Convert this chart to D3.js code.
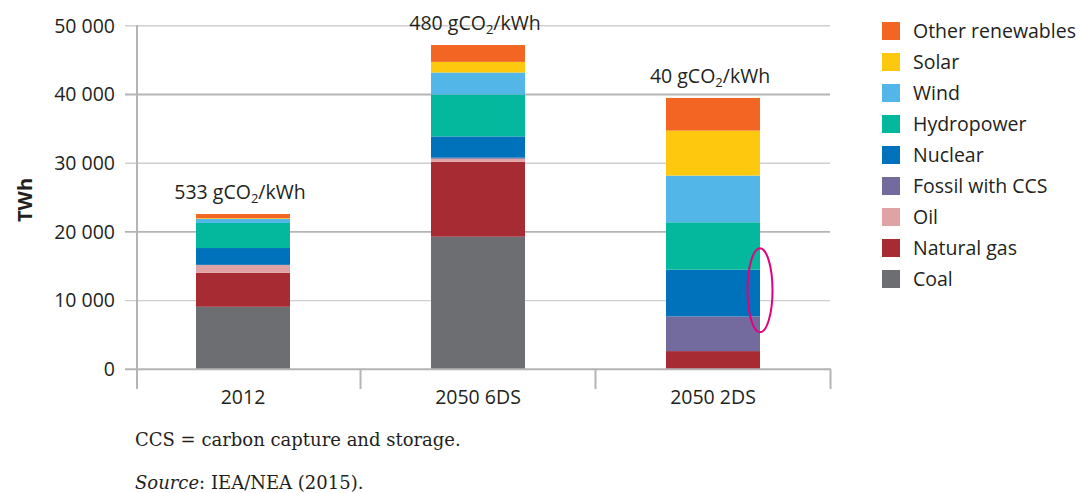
<!DOCTYPE html>
<html><head><meta charset="utf-8">
<script src="https://cdn.jsdelivr.net/npm/d3@7"></script>
<style>
html,body{margin:0;padding:0;background:#fff;}
svg{display:block;}
</style></head>
<body>
<svg id="chart" width="1090" height="493"></svg>
<script>
const categories = ["2012", "2050 6DS", "2050 2DS"];
const seriesNames = ["Coal", "Natural gas", "Oil", "Fossil with CCS", "Nuclear", "Hydropower", "Wind", "Solar", "Other renewables"];
const coal      = [9100, 19300, 0];
const gas       = [4950, 10900, 2650];
const oil       = [1150, 450, 0];
const ccs       = [0, 150, 5050];
const nuclear   = [2450, 3100, 6800];
const hydro     = [3650, 6100, 6900];
const wind      = [600, 3200, 6800];
const solar     = [100, 1550, 6550];
const other     = [600, 2450, 4750];
const intensity = ["533", "480", "40"];
const yTicks = [0, 10000, 20000, 30000, 40000, 50000];
const colors = ["#6d6e71", "#a62b33", "#e0a3a5", "#736b9e", "#0071bb", "#04b89d", "#52b7e8", "#fec80f", "#f26522"];

const seriesValues = [coal, gas, oil, ccs, nuclear, hydro, wind, solar, other];
const rows = categories.map((c, i) => {
  const r = {cat: c};
  seriesNames.forEach((s, k) => r[s] = seriesValues[k][i]);
  return r;
});

const svg = d3.select("#chart");
const font = "'Open Sans', sans-serif";
const fs = 19.5;

const x = d3.scaleBand().domain(categories).range([125.5, 830.5]).paddingInner(0.6).paddingOuter(0.3);
const y = d3.scaleLinear().domain([0, 50000]).range([369.3, 25.8]);
const color = d3.scaleOrdinal().domain(seriesNames).range(colors);

// gridlines
svg.append("g").selectAll("line").data(yTicks.filter(d => d > 0)).join("line")
  .attr("x1", 125).attr("x2", 830)
  .attr("y1", d => y(d)).attr("y2", d => y(d))
  .attr("stroke", d => (d % 20000 === 0) ? "#b4b4b6" : "#cfcfd1")
  .attr("stroke-width", d => (d % 20000 === 0) ? 1.8 : 1.4);

// y tick labels
svg.append("g").selectAll("text").data(yTicks).join("text")
  .attr("x", 115).attr("y", d => y(d)).attr("dy", "0.35em")
  .attr("text-anchor", "end")
  .attr("font-family", font).attr("font-size", fs).attr("fill", "#231f20")
  .text(d => d3.format(",")(d).replace(/,/g, " "));

// stacked bars
const stack = d3.stack().keys(seriesNames)(rows);
svg.append("g").selectAll("g").data(stack).join("g")
  .attr("fill", d => color(d.key))
  .selectAll("rect").data(d => d).join("rect")
  .attr("x", d => x(d.data.cat))
  .attr("width", x.bandwidth())
  .attr("y", d => y(d[1]))
  .attr("height", d => Math.max(0, y(d[0]) - y(d[1])));

// axes lines
svg.append("line").attr("x1", 137).attr("x2", 137).attr("y1", 25).attr("y2", 389)
  .attr("stroke", "#b4b4b6").attr("stroke-width", 2);
svg.append("line").attr("x1", 125).attr("x2", 831).attr("y1", y(0)).attr("y2", y(0))
  .attr("stroke", "#b4b4b6").attr("stroke-width", 2);
const sepPositions = categories.map(c => x(c) + x.bandwidth() + x.step() * 0.3);
svg.append("g").selectAll("line").data(sepPositions).join("line")
  .attr("x1", d => d).attr("x2", d => d).attr("y1", y(0)).attr("y2", 389)
  .attr("stroke", "#b4b4b6").attr("stroke-width", 2);

// category labels
svg.append("g").selectAll("text").data(categories).join("text")
  .attr("x", d => x(d) + x.bandwidth() / 2).attr("y", 404)
  .attr("text-anchor", "middle")
  .attr("font-family", font).attr("font-size", fs).attr("fill", "#231f20")
  .text(d => d);

// intensity annotations
const totals = rows.map(r => d3.sum(seriesNames, s => r[s]));
const ann = svg.append("g").selectAll("text").data(categories).join("text")
  .attr("x", d => x(d) + x.bandwidth() / 2 - 3)
  .attr("y", (d, i) => y(totals[i]) - 15)
  .attr("text-anchor", "middle")
  .attr("font-family", font).attr("font-size", fs).attr("fill", "#231f20");
ann.append("tspan").text((d, i) => intensity[i] + " gCO");
ann.append("tspan").attr("font-size", 13).attr("dy", 4).text("2");
ann.append("tspan").attr("dy", -4).text("/kWh");

// y-axis title
svg.append("text")
  .attr("transform", "translate(32,200) rotate(-90)")
  .attr("text-anchor", "middle")
  .attr("font-family", font).attr("font-size", 20).attr("font-weight", "bold").attr("fill", "#231f20")
  .text("TWh");

// highlight ellipse
svg.append("ellipse")
  .attr("cx", x("2050 2DS") + x.bandwidth()).attr("cy", y(11500))
  .attr("rx", 12.5).attr("ry", 42)
  .attr("fill", "none").attr("stroke", "#e5007e").attr("stroke-width", 2);

// legend
const legendNames = seriesNames.slice().reverse();
const lg = svg.append("g").selectAll("g").data(legendNames).join("g")
  .attr("transform", (d, i) => `translate(882,${22 + i * 31})`);
lg.append("rect").attr("width", 18).attr("height", 18).attr("fill", d => color(d));
lg.append("text").attr("x", 31).attr("y", 9).attr("dy", "0.35em")
  .attr("font-family", font).attr("font-size", fs).attr("fill", "#231f20")
  .text(d => d);

// footnotes
const serif = "'DejaVu Serif', serif";
svg.append("text").attr("x", 135).attr("y", 446)
  .attr("font-family", serif).attr("font-size", 18).attr("fill", "#231f20")
  .text("CCS = carbon capture and storage.");
const src = svg.append("text").attr("x", 135).attr("y", 489)
  .attr("font-family", serif).attr("font-size", 18).attr("fill", "#231f20");
src.append("tspan").attr("font-style", "italic").text("Source");
src.append("tspan").text(": IEA/NEA (2015).");
</script>
</body></html>
